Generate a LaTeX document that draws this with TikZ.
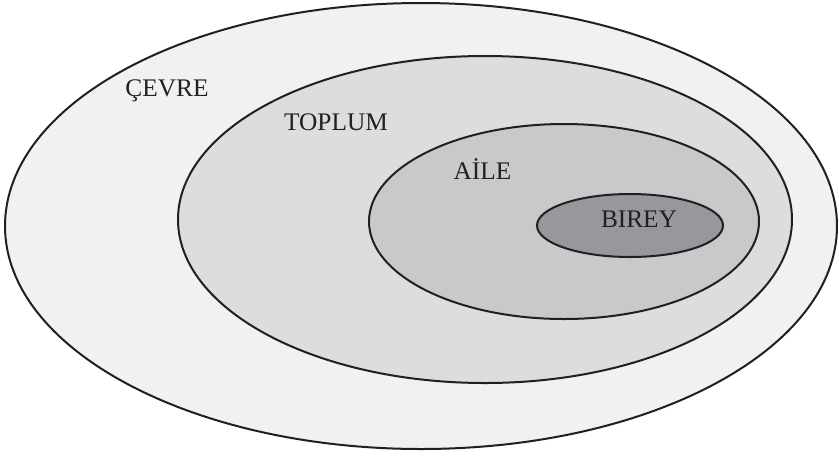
\documentclass[tikz,border=0pt]{standalone}
\usepackage{fontspec}
\setmainfont{Liberation Serif}

\definecolor{cevrefill}{RGB}{240,241,243}
\definecolor{toplumfill}{RGB}{220,221,223}
\definecolor{ailefill}{RGB}{200,201,203}
\definecolor{bireyfill}{RGB}{151,152,155}
\definecolor{lineblack}{RGB}{35,31,32}

\tikzset{every picture/.style={line width=1.5pt}}
\tikzset{ring/.style={draw=lineblack, line width=1.5pt}}
\tikzset{lbl/.style={anchor=base, inner sep=0.75pt, font=\fontsize{19}{23}\selectfont, text=lineblack}}

\begin{document}
\begin{tikzpicture}[x=0.75pt,y=0.75pt,yscale=-1,xscale=1]
%set diagram left start at 0, and has height of 455
\useasboundingbox (0,0) rectangle (839,455);

%Shape: Ellipse [cevre]
\draw [ring, fill=cevrefill] (421,226) ellipse [x radius=416, y radius=223];
%Shape: Ellipse [toplum]
\draw [ring, fill=toplumfill] (485,219.5) ellipse [x radius=307, y radius=163.5];
%Shape: Ellipse [aile]
\draw [ring, fill=ailefill] (564,221.5) ellipse [x radius=195, y radius=97.5];
%Shape: Ellipse [birey]
\draw [ring, fill=bireyfill] (630,225.5) ellipse [x radius=93, y radius=31.5];

% Text Node
\draw (167,96) node (cevre) [lbl] {ÇEVRE};
% Text Node
\draw (336,130.5) node (toplum) [lbl] {TOPLUM};
% Text Node
\draw (482.5,179) node (aile) [lbl] {AİLE};
% Text Node
\draw (639,227.5) node (birey) [lbl] {BIREY};

\end{tikzpicture}
\end{document}
